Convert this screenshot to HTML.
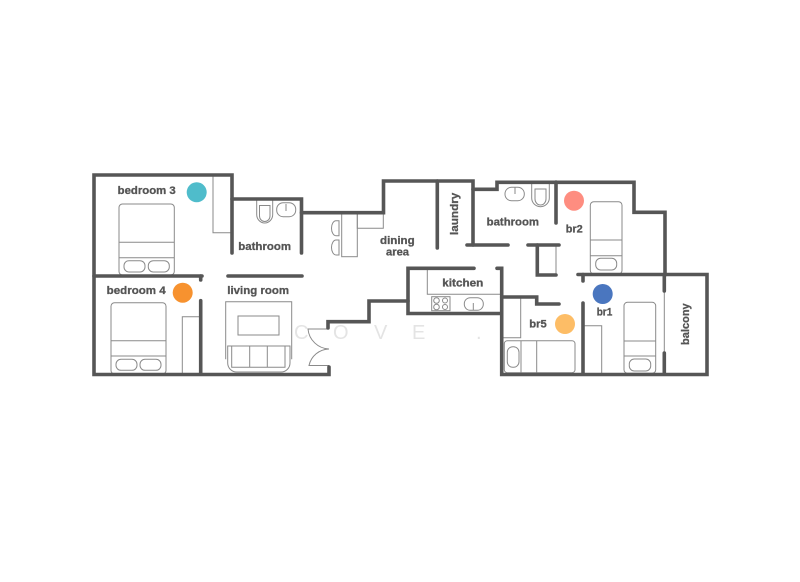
<!DOCTYPE html>
<html>
<head>
<meta charset="utf-8">
<style>
html,body{margin:0;padding:0;background:#fff;}
svg{display:block;}
.w{fill:none;stroke:#565656;stroke-width:3.6;stroke-linecap:round;stroke-linejoin:miter;}
.t{fill:none;stroke:#8a8a8a;stroke-width:1;}
.l{fill:#555;stroke:#555;stroke-width:.3;font-family:"Liberation Sans",sans-serif;font-weight:bold;font-size:11px;}
.m{fill:#e4e4e4;font-family:"Liberation Sans",sans-serif;font-size:20px;}
</style>
</head>
<body>
<svg width="800" height="582" viewBox="0 0 800 582" xmlns="http://www.w3.org/2000/svg">
<rect width="800" height="582" fill="#fff"/>
<!-- watermark -->
<text class="m" x="294" y="339">C</text>
<text class="m" x="333" y="339">O</text>
<text class="m" x="374" y="339">V</text>
<text class="m" x="412" y="339">E</text>
<text class="m" x="476" y="339">.</text>
<!-- thin fixtures -->
<g class="t">
<path d="M213 175V232.7H232"/>
<rect x="119" y="204" width="55.3" height="71" rx="3.5"/>
<path d="M119 242.3H174.3M119 257.7H174.3"/>
<rect x="124" y="260.7" width="21" height="11.3" rx="5"/>
<rect x="148.3" y="260.7" width="21" height="11.3" rx="5"/>
<rect x="111" y="302.7" width="55" height="71.3" rx="3.5"/>
<path d="M111 340.7H166M111 356H166"/>
<rect x="116" y="359.3" width="21" height="11" rx="5"/>
<rect x="140" y="359.3" width="21" height="11" rx="5"/>
<path d="M182.3 374V316.7H200"/>
<path d="M256.7 199V214.5A8 8.500 0 0 0 272.700 214.500V199"/>
<path d="M259.500 205.500H270V216A5.250 5.500 0 0 1 259.500 216Z"/>
<rect x="276.700" y="202.700" width="19" height="14" rx="6.500"/>
<path d="M286 204V211"/>
<path d="M225.700 359.300V301.700H291.700V359.300"/>
<rect x="238" y="316" width="41" height="19"/>
<path d="M227.700 346H290V363A9 9 0 0 1 281 372H236.700A9 9 0 0 1 227.700 363Z"/>
<path d="M231.700 346V367.300H285V346M249.700 346V367.300M267.300 346V367.300"/>
<path d="M328 329H308A22 22 0 0 0 329 349A21 21 0 0 0 309 365.500H329"/>
<rect x="341.700" y="213" width="15.600" height="43.700"/>
<path d="M357.300 213V228.300H383.300V213"/>
<path d="M339 220.700H336A4.500 7.500 0 0 0 336 235.700H339Z"/>
<path d="M339 240H336A4.500 7.500 0 0 0 336 255H339Z"/>
<path d="M427.300 268V294.300H501"/>
<rect x="431.700" y="296.700" width="18.300" height="14"/>
<circle cx="436.500" cy="300.500" r="2.800"/>
<circle cx="436.500" cy="307" r="2.800"/>
<circle cx="445" cy="300.500" r="2.500"/>
<circle cx="445" cy="307" r="2.500"/>
<rect x="464.300" y="297.700" width="19" height="12.600" rx="6"/>
<path d="M473.300 303V310"/>
<rect x="505" y="187.300" width="19.300" height="13.400" rx="6.500"/>
<path d="M515 187V194"/>
<path d="M531.700 182V198A8.800 8.700 0 0 0 549.300 198V182"/>
<path d="M535 189H546V199A5.500 6 0 0 1 535 199Z"/>
<path d="M556 245V275"/>
<rect x="590.300" y="201.700" width="31.700" height="72.300" rx="3.500"/>
<path d="M590.300 240H622M590.300 255.700H622"/>
<rect x="595.700" y="258.300" width="21" height="11.700" rx="5"/>
<path d="M501 337.700H520.700V297"/>
<rect x="504.300" y="340.700" width="70.700" height="32" rx="3"/>
<path d="M521 340.700V372.700M536.700 340.700V372.700"/>
<rect x="507.300" y="346.700" width="11.700" height="20.600" rx="5.500"/>
<path d="M583 325.700H601.700V375"/>
<rect x="624" y="302.300" width="31.700" height="71" rx="3.500"/>
<path d="M624 341H655.700M624 356H655.700"/>
<rect x="629.300" y="359" width="21.400" height="12" rx="5"/>
<path d="M664.300 291V353"/>
</g>
<!-- walls -->
<g class="w">
<path d="M232 253V175H94V374.500H329V367"/>
<path d="M94 276H202"/>
<path d="M200.700 276V280M200.700 300.700V374"/>
<path d="M232 199H301.500V253"/>
<path d="M228 276H302"/>
<path d="M301.500 212.700H383.500V181H473V245"/>
<path d="M437.300 181V248"/>
<path d="M467 245H508"/>
<path d="M473 189.300H497V182.300H634V212.300H665V275"/>
<path d="M556 182V223"/>
<path d="M528 245H559"/>
<path d="M537.300 245V275H556"/>
<path d="M578 274.500H707V374.500H501.700V268.300H497"/>
<path d="M583 274.500V281M583 303V374"/>
<path d="M664.300 275V291M664.300 353V374"/>
<path d="M474 268.300H408V313.500H501"/>
<path d="M408 301H369V321.700H328V328"/>
<path d="M501.700 297H536.700V304H559"/>
</g>
<!-- dots -->
<circle cx="196.700" cy="192.300" r="10" fill="#4fbccb"/>
<circle cx="182.700" cy="292.700" r="10" fill="#f7922f"/>
<circle cx="574" cy="200.700" r="10" fill="#fe8d80"/>
<circle cx="565" cy="324" r="10" fill="#fdbd66"/>
<circle cx="602.700" cy="294" r="10" fill="#4a76bf"/>
<!-- labels -->
<text class="l" x="117.700" y="194" textLength="58" lengthAdjust="spacingAndGlyphs">bedroom 3</text>
<text class="l" x="106.700" y="294" textLength="59" lengthAdjust="spacingAndGlyphs">bedroom 4</text>
<text class="l" x="238.300" y="250" textLength="52.700" lengthAdjust="spacingAndGlyphs">bathroom</text>
<text class="l" x="227.300" y="294" textLength="61.700" lengthAdjust="spacingAndGlyphs">living room</text>
<text class="l" x="380" y="244" textLength="34.700" lengthAdjust="spacingAndGlyphs">dining</text>
<text class="l" x="386" y="255.700" textLength="23" lengthAdjust="spacingAndGlyphs">area</text>
<text class="l" x="442.300" y="286.700" textLength="41" lengthAdjust="spacingAndGlyphs">kitchen</text>
<text class="l" transform="translate(458 235) rotate(-90)" textLength="42.300" lengthAdjust="spacingAndGlyphs">laundry</text>
<text class="l" x="486.700" y="225.700" textLength="52.300" lengthAdjust="spacingAndGlyphs">bathroom</text>
<text class="l" x="565.700" y="232.300" textLength="17" lengthAdjust="spacingAndGlyphs">br2</text>
<text class="l" x="529.300" y="327.300" textLength="17.400" lengthAdjust="spacingAndGlyphs">br5</text>
<text class="l" x="596.700" y="315.700" textLength="15.600" lengthAdjust="spacingAndGlyphs">br1</text>
<text class="l" transform="translate(689 345) rotate(-90)" textLength="41.700" lengthAdjust="spacingAndGlyphs">balcony</text>
</svg>
</body>
</html>
